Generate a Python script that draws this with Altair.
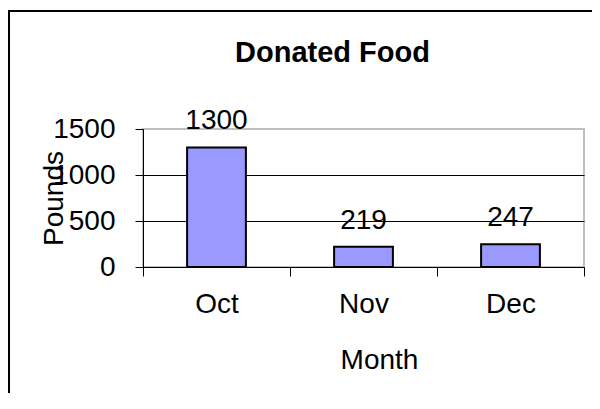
import altair as alt
import pandas as pd

months = ["Oct", "Nov", "Dec"]
pounds = [1300, 219, 247]
y_ticks = [0, 500, 1000, 1500]

df = pd.DataFrame({"Month": months, "Pounds": pounds})
FONT = "Liberation Sans"

x_enc = alt.X(
    "Month:N",
    sort=months,
    scale=alt.Scale(paddingInner=0, paddingOuter=0),
    axis=alt.Axis(
        title="Month", labelAngle=0, tickBand="extent", grid=False,
        tickSize=9, tickColor="black", domainColor="black",
        labelFont=FONT, labelFontSize=28, labelColor="black",
        labelBaseline="alphabetic", labelPadding=36,
        titleFont=FONT, titleFontSize=28, titleFontWeight="normal", titleColor="black",
        titleX=236, titleY=101, titleBaseline="alphabetic", titleAlign="center",
    ),
)
y_enc = alt.Y(
    "Pounds:Q",
    scale=alt.Scale(domain=[0, 1500], nice=False),
    axis=alt.Axis(
        title="Pounds", values=y_ticks, format="d", grid=True,
        gridColor={"condition": {"test": "datum.value >= 1500", "value": "#c0c0c0"}, "value": "black"},
        gridWidth=1,
        tickSize=8, tickColor="black", domainColor="black",
        labelFont=FONT, labelFontSize=28, labelColor="black", labelPadding=20,
        titleFont=FONT, titleFontSize=28, titleFontWeight="normal", titleColor="black",
        titleAngle=270, titleX=-81, titleY=69, titleBaseline="alphabetic", titleAlign="center",
    ),
)

frame = alt.Chart(alt.Data(values=[{}])).mark_rect(
    fill="white", fillOpacity=0, stroke="black", strokeWidth=2
).encode(
    x=alt.value(-134), y=alt.value(-118), x2=alt.value(1000), y2=alt.value(1000)
)

base = alt.Chart(df)
bars = base.mark_bar(
    fill="#9999ff", stroke="black", strokeWidth=2, width=alt.RelativeBandSize(0.4)
).encode(x=x_enc, y=y_enc)

labels = base.mark_text(
    baseline="alphabetic", dy=-18, font=FONT, fontSize=28, color="black"
).encode(x=alt.X("Month:N", sort=months), y="Pounds:Q", text="Pounds:Q")

chart = alt.layer(frame, bars, labels).properties(
    width=441,
    height=138,
    autosize=alt.AutoSizeParams(type="none"),
    padding={"left": 135, "top": 121, "right": 8, "bottom": 126},
    title=alt.TitleParams(
        "Donated Food", font=FONT, fontSize=29, fontWeight="bold", color="black",
        anchor="middle", frame="group", dx=-31, offset=-81, baseline="alphabetic",
    ),
).configure_view(stroke="#c0c0c0", strokeWidth=2)

chart.save("out.html", embed_options={"renderer": "svg", "actions": False})
